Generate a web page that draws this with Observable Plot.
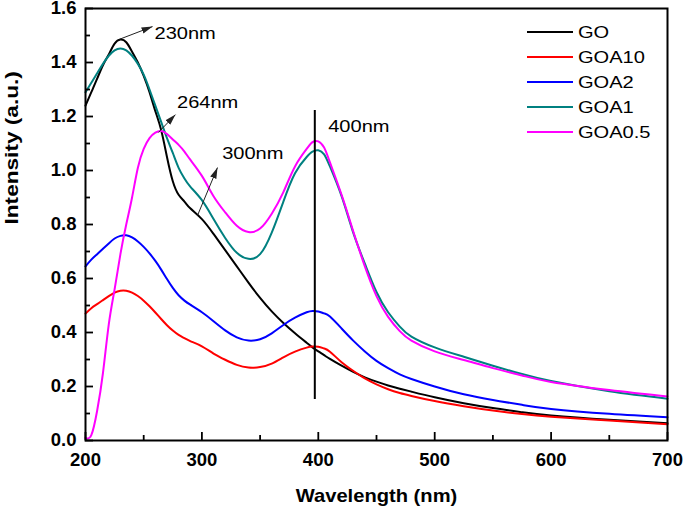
<!DOCTYPE html>
<html><head><meta charset="utf-8">
<script src="https://cdn.jsdelivr.net/npm/d3@7"></script>
<script src="https://cdn.jsdelivr.net/npm/@observablehq/plot@0.6"></script>
<style>
body{margin:0;background:#fff;}
#chart{position:relative;width:685px;height:507px;}
</style></head><body><div id="chart"></div>
<script>
// Wavelength samples (nm)
const wl = [200,205,210,215,220,225,230,235,240,245,250,255,260,265,270,275,280,285,290,300,310,320,330,340,350,360,370,380,390,395,400,405,410,420,430,440,450,460,470,480,500,525,550,575,600,650,700];
// Series values (a.u.)
const GO    = [1.24,1.29,1.34,1.39,1.43,1.47,1.485,1.475,1.44,1.40,1.35,1.29,1.22,1.15,1.05,0.96,0.91,0.885,0.86,0.82,0.765,0.705,0.645,0.585,0.528,0.478,0.435,0.397,0.362,0.345,0.33,0.316,0.302,0.277,0.254,0.234,0.218,0.204,0.192,0.181,0.16,0.138,0.12,0.105,0.093,0.077,0.064];
const GOA10 = [0.47,0.49,0.505,0.52,0.535,0.548,0.555,0.555,0.548,0.535,0.518,0.497,0.474,0.45,0.427,0.407,0.391,0.379,0.368,0.349,0.322,0.299,0.28,0.27,0.272,0.285,0.308,0.329,0.344,0.348,0.347,0.341,0.329,0.29,0.258,0.23,0.208,0.19,0.176,0.165,0.146,0.127,0.111,0.098,0.088,0.074,0.06];
const GOA2  = [0.645,0.67,0.69,0.71,0.73,0.748,0.758,0.76,0.752,0.737,0.717,0.693,0.665,0.633,0.598,0.565,0.538,0.518,0.503,0.475,0.442,0.408,0.382,0.37,0.375,0.397,0.428,0.455,0.475,0.48,0.478,0.471,0.459,0.415,0.37,0.33,0.295,0.268,0.245,0.228,0.2,0.171,0.15,0.132,0.117,0.099,0.086];
const GOA1  = [1.29,1.325,1.36,1.395,1.425,1.445,1.452,1.445,1.425,1.395,1.355,1.30,1.24,1.18,1.12,1.065,1.01,0.97,0.94,0.89,0.82,0.75,0.695,0.673,0.69,0.77,0.885,0.99,1.05,1.07,1.075,1.06,1.015,0.905,0.77,0.655,0.55,0.475,0.422,0.385,0.345,0.31,0.277,0.246,0.22,0.182,0.155];
const GOA05 = [0.01,0.02,0.11,0.25,0.43,0.56,0.69,0.80,0.90,1.01,1.08,1.12,1.14,1.146,1.135,1.115,1.095,1.07,1.04,0.98,0.905,0.845,0.795,0.772,0.785,0.84,0.92,1.015,1.08,1.105,1.108,1.085,1.03,0.91,0.775,0.645,0.535,0.458,0.405,0.37,0.33,0.298,0.268,0.241,0.217,0.187,0.163];

const seriesNames  = ["GO","GOA10","GOA2","GOA1","GOA0.5"];
const seriesValues = [GO, GOA10, GOA2, GOA1, GOA05];
const seriesColors = ["#000000","#ff0000","#0000ff","#008080","#ff00ff"];

const xTicks = [200,300,400,500,600,700];
const xMinor = [250,350,450,550,650];
const yTicks = [0,0.2,0.4,0.6,0.8,1.0,1.2,1.4,1.6];
const yMinor = [0.1,0.3,0.5,0.7,0.9,1.1,1.3,1.5];

// Annotations: arrows (from curve to label) and labels
const arrows = [
  {x1:229.2, y1:1.486, x2:257.6, y2:1.533},
  {x1:262.7, y1:1.141, x2:277.3, y2:1.207},
  {x1:296.2, y1:0.833, x2:313.4, y2:1.011}
];
const notes = [
  {text:"230nm", x:259.3, y:1.488},
  {text:"264nm", x:278.6, y:1.232},
  {text:"300nm", x:317.4, y:1.043},
  {text:"400nm", x:408.5, y:1.144}
];
const peakLine = [{x:397, y1:0.152, y2:1.222}];
const xTitle = "Wavelength (nm)";
const yTitle = "Intensity (a.u.)";

const rows = seriesNames.flatMap((name, i) => wl.map((w, j) => ({name, wl: w, v: seriesValues[i][j]})));

const chart = Plot.plot({
  width: 685, height: 507,
  marginLeft: 85, marginRight: 18, marginTop: 8, marginBottom: 67,
  style: {fontFamily: "'Liberation Sans', Arial, sans-serif", background: "white", color: "black"},
  x: {domain: [200, 700]},
  y: {domain: [0, 1.6]},
  color: {domain: seriesNames, range: seriesColors},
  marks: [
    Plot.line(rows, {x: "wl", y: "v", z: "name", stroke: "name", strokeWidth: 2, curve: "natural"}),
    Plot.ruleX(peakLine, {x: "x", y1: "y1", y2: "y2", strokeWidth: 2, stroke: "black"}),
    Plot.link(arrows, {x1: "x1", y1: "y1", x2: "x2", y2: "y2", stroke: "#222", strokeWidth: 1, markerEnd: "arrow"}),
    Plot.text(notes, {x: "x", y: "y", text: "text", textAnchor: "start", lineAnchor: "bottom", fontSize: 17}),
    Plot.axisX({ticks: xTicks, tickSize: -8, tickPadding: 20, tickFormat: d3.format("d"), fontSize: 18.5, fontWeight: "bold", strokeWidth: 1.8, label: null}),
    Plot.axisX({ticks: xMinor, tickSize: -5, fill: "none", strokeWidth: 1.8, label: null}),
    Plot.axisY({ticks: yTicks, tickSize: -8, tickPadding: 17, tickFormat: d3.format(".1f"), fontSize: 18.5, fontWeight: "bold", strokeWidth: 1.8, label: null}),
    Plot.axisY({ticks: yMinor, tickSize: -5, fill: "none", strokeWidth: 1.8, label: null}),
    Plot.frame({stroke: "black", strokeWidth: 2}),
    Plot.text([xTitle], {text: d => d, frameAnchor: "bottom", lineAnchor: "bottom", dy: 61, fontSize: 19, fontWeight: "bold"}),
    Plot.text([yTitle], {text: d => d, frameAnchor: "left", rotate: -90, lineAnchor: "bottom", dx: -68, fontSize: 19, fontWeight: "bold"})
  ]
});
document.getElementById("chart").appendChild(chart);

const svg = d3.select(chart);
// filled arrow heads
svg.selectAll("marker")
  .attr("viewBox", "-10 -5 10 10")
  .attr("markerWidth", 11).attr("markerHeight", 11)
  .attr("fill", "#222").attr("stroke", "none")
  .selectAll("path").attr("d", "M-10,-3L0,0L-10,3Z");

// Legend
const leg = svg.append("g").attr("font-size", 17).attr("text-anchor", "start");
seriesNames.forEach((name, i) => {
  const cy = 32 + i * 25;
  leg.append("line").attr("x1", 527).attr("x2", 573).attr("y1", cy).attr("y2", cy)
    .attr("stroke", seriesColors[i]).attr("stroke-width", 2);
  leg.append("text").attr("x", 578).attr("y", cy).attr("dy", "0.36em").attr("fill", "black")
    .attr("text-anchor", "start").text(name);
});

// horizontal stretch of texts as in the reference
function stretch(list, k) {
  svg.selectAll("text").filter(function() { return list.includes(this.textContent); }).each(function() {
    const L = this.getComputedTextLength();
    if (L > 0) {
      this.setAttribute("textLength", (L * k).toFixed(1));
      this.setAttribute("lengthAdjust", "spacingAndGlyphs");
    }
  });
}
stretch(seriesNames, 1.18);
stretch(notes.map(d => d.text), 1.18);
stretch([xTitle], 1.06);
stretch([yTitle], 1.19);
</script></body></html>
